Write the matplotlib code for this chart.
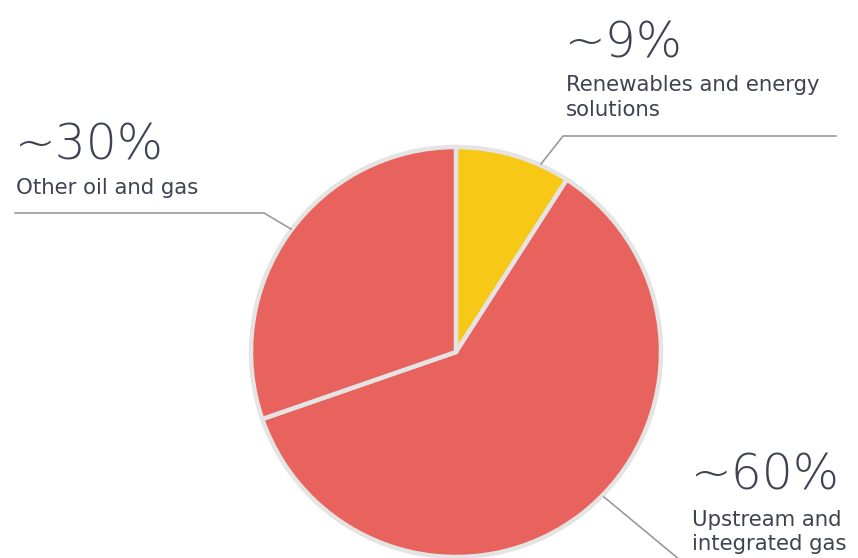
import matplotlib
matplotlib.use("Agg")
import matplotlib.pyplot as plt

# Segment shares
segments = [["Renewables and energy", "solutions"],
            ["Upstream and", "integrated gas"],
            ["Other oil and gas"]]
shares = [9, 60, 30]
share_labels = ["~9%", "~60%", "~30%"]
colors = ["#F7C815", "#E8625E", "#E8625E"]

W, H = 858, 558
fig = plt.figure(figsize=(W / 100, H / 100), dpi=100)
ax = fig.add_axes([0, 0, 1, 1])

cx, cy, r = 456, H - 352, 205
ax.pie(shares, colors=colors, startangle=90, counterclock=False,
       center=(cx, cy), radius=r, frame=True,
       wedgeprops=dict(edgecolor="#E4E4E4", linewidth=3.2))
ax.set_xlim(0, W)
ax.set_ylim(0, H)
ax.set_aspect("equal")
ax.axis("off")

text_col = "#3E4252"
line_col = "#9A9A9A"
big = dict(fontsize=35, color=text_col, family=["DejaVu Sans"], fontweight=200)
small = dict(fontsize=15.3, color=text_col, family=["DejaVu Sans"])


def y(v):
    return H - v


def label(x, pct_base, line_bases, pct, lines):
    ax.text(x, y(pct_base), pct, ha="left", va="baseline", **big)
    for b, s in zip(line_bases, lines):
        ax.text(x + 1, y(b), s, ha="left", va="baseline", **small)


label(15, 160, [194], share_labels[2], segments[2])
ax.plot([15, 264, 291], [y(213), y(213), y(229)], color=line_col, lw=1.2)

label(565, 58, [91, 116], share_labels[0], segments[0])
ax.plot([541, 563, 836], [y(164), y(136), y(136)], color=line_col, lw=1.2)

label(691, 489, [526, 550], share_labels[1], segments[1])
ax.plot([604, 680], [y(497), y(560)], color=line_col, lw=1.2)

fig.savefig("out.png", dpi=100)
